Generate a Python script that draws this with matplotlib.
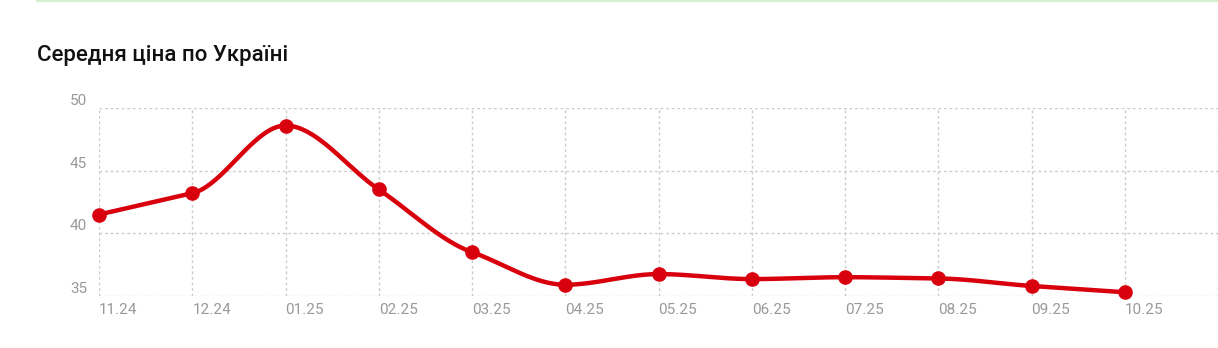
import numpy as np
import matplotlib.pyplot as plt
from matplotlib.transforms import offset_copy
from matplotlib.lines import Line2D

plt.rcParams['font.family'] = ['Roboto', 'DejaVu Sans']

months = ['11.24', '12.24', '01.25', '02.25', '03.25', '04.25',
          '05.25', '06.25', '07.25', '08.25', '09.25', '10.25']
prices = [41.5, 43.2, 48.6, 43.5, 38.5, 35.9, 36.75, 36.35, 36.5, 36.4, 35.8, 35.3]
yticks = [35, 40, 45, 50]

RED = '#d9000d'
GRID = '#cccccc'
LABEL = '#999999'


def smooth(xs, ys, n=40):
    # monotone Hermite curve: tangent = smaller neighbour slope, flat at turning points
    xs = np.asarray(xs, float)
    ys = np.asarray(ys, float)
    s = np.diff(ys) / np.diff(xs)
    m = np.empty_like(ys)
    m[0], m[-1] = s[0], s[-1]
    for i in range(1, len(ys) - 1):
        if s[i - 1] * s[i] > 0:
            m[i] = np.sign(s[i]) * min(abs(s[i - 1]), abs(s[i]))
        else:
            m[i] = 0.0
    px, py = [xs[0]], [ys[0]]
    t = np.linspace(0, 1, n)[1:]
    for i in range(len(xs) - 1):
        h = xs[i + 1] - xs[i]
        h00 = 2 * t**3 - 3 * t**2 + 1
        h10 = t**3 - 2 * t**2 + t
        h01 = -2 * t**3 + 3 * t**2
        h11 = t**3 - t**2
        px.extend(xs[i] + t * h)
        py.extend(h00 * ys[i] + h10 * h * m[i] + h01 * ys[i + 1] + h11 * h * m[i + 1])
    return np.array(px), np.array(py)


fig = plt.figure(figsize=(12.18, 3.48), dpi=100)
ax = fig.add_axes([99 / 1218, 1 - 296 / 348, 1 - 99 / 1218, (296 - 108) / 348])

x = np.arange(len(months))
cx, cy = smooth(x, prices)
ax.plot(cx, cy, color=RED, lw=3.2, solid_capstyle='round', zorder=3, clip_on=False)
ax.plot(x, prices, 'o', color=RED, ms=9.5, zorder=4, clip_on=False)

ax.set_xlim(0, len(months))
ax.set_ylim(35, 50)
ax.set_xticks(np.arange(len(months) + 1))
ax.set_yticks(yticks)
ax.tick_params(length=0, labelbottom=False, labelleft=False)
ax.grid(True, color=GRID, ls=(0, (2, 2)), lw=1)
for sp in ax.spines.values():
    sp.set_visible(False)

ytr = offset_copy(ax.get_yaxis_transform(), fig=fig, x=-12, y=7, units='dots')
for v in yticks:
    ax.text(0, v, str(v), transform=ytr, ha='right', va='center',
            color=LABEL, fontsize=11)

xtr = offset_copy(ax.get_xaxis_transform(), fig=fig, x=0, y=-14, units='dots')
for i, lab in enumerate(months):
    ax.text(i, 0, lab, transform=xtr, ha='left', va='center',
            color=LABEL, fontsize=11)

fig.text(37 / 1218, 1 - 55 / 348, 'Середня ціна по Україні', fontsize=16,
         fontweight='medium', color='#111111', va='center', ha='left')
fig.add_artist(Line2D([37 / 1218, 1], [1 - 0.5 / 348] * 2, color='#d6efd0', lw=1.5))

fig.savefig('out.png', dpi=100)
